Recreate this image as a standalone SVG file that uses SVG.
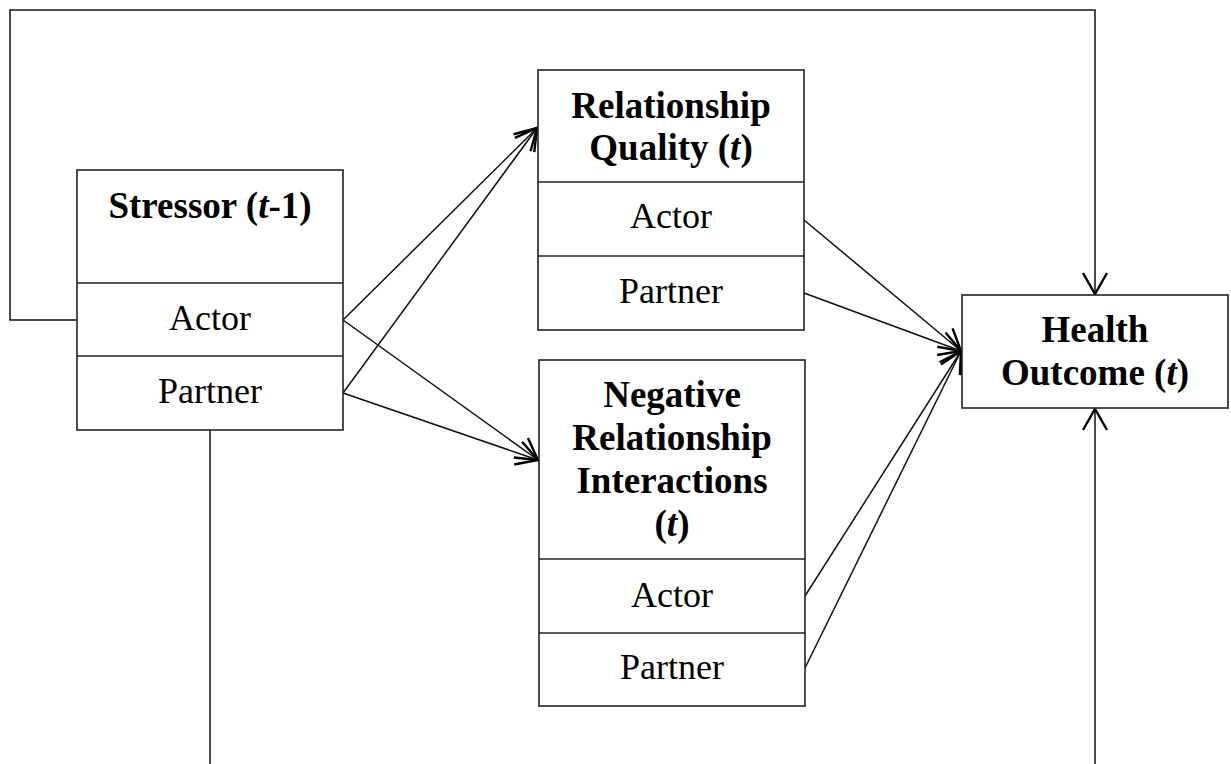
<svg xmlns="http://www.w3.org/2000/svg" width="1231" height="764" viewBox="0 0 1231 764">
<style>
.box{fill:#fff;stroke:#222;stroke-width:1.6}
.div{stroke:#222;stroke-width:1.6}
.t{font-family:"Liberation Serif","Times New Roman",serif;font-size:36px;fill:#000;text-anchor:middle}
.b{font-weight:bold;font-size:37px}
.c{fill:none;stroke:#111;stroke-width:1.5}
</style>
<defs>
<marker id="ah" markerUnits="userSpaceOnUse" markerWidth="30" markerHeight="30" viewBox="-24 -15 28 30" refX="0" refY="0" orient="auto">
<path d="M-21,-12 L0,0 L-21,12" fill="none" stroke="#000" stroke-width="2.4" stroke-linejoin="miter"/>
</marker>
</defs>
<g id="connectors">
<polyline class="c" points="77,320 10,320 10,10 1095,10 1095,294" marker-end="url(#ah)"/>
<line class="c" x1="210" y1="430" x2="210" y2="764"/>
<line class="c" x1="1095" y1="764" x2="1095" y2="409" marker-end="url(#ah)"/>
<line class="c" x1="343" y1="320" x2="537" y2="128" marker-end="url(#ah)"/>
<line class="c" x1="343" y1="393" x2="537" y2="128" marker-end="url(#ah)"/>
<line class="c" x1="343" y1="320" x2="538" y2="460" marker-end="url(#ah)"/>
<line class="c" x1="343" y1="393" x2="538" y2="460" marker-end="url(#ah)"/>
<line class="c" x1="804" y1="220" x2="961" y2="351" marker-end="url(#ah)"/>
<line class="c" x1="804" y1="293" x2="961" y2="351" marker-end="url(#ah)"/>
<line class="c" x1="805" y1="596" x2="961" y2="351" marker-end="url(#ah)"/>
<line class="c" x1="805" y1="668" x2="961" y2="351" marker-end="url(#ah)"/>
</g>
<g id="stressor">
<rect class="box" x="77" y="170" width="266" height="260"/>
<line class="div" x1="77" y1="283" x2="343" y2="283"/>
<line class="div" x1="77" y1="356" x2="343" y2="356"/>
<text class="t b" x="210" y="218">Stressor (<tspan font-style="italic">t</tspan>-1)</text>
<text class="t" x="210" y="330">Actor</text>
<text class="t" x="210" y="403">Partner</text>
</g>
<g id="relationship-quality">
<rect class="box" x="538" y="70" width="266" height="260"/>
<line class="div" x1="538" y1="182" x2="804" y2="182"/>
<line class="div" x1="538" y1="256" x2="804" y2="256"/>
<text class="t b" x="671" y="118">Relationship</text>
<text class="t b" x="671" y="160">Quality (<tspan font-style="italic">t</tspan>)</text>
<text class="t" x="671" y="228">Actor</text>
<text class="t" x="671" y="303">Partner</text>
</g>
<g id="negative-interactions">
<rect class="box" x="539" y="360" width="266" height="346"/>
<line class="div" x1="539" y1="559" x2="805" y2="559"/>
<line class="div" x1="539" y1="633" x2="805" y2="633"/>
<text class="t b" x="672" y="407">Negative</text>
<text class="t b" x="672" y="450">Relationship</text>
<text class="t b" x="672" y="493">Interactions</text>
<text class="t b" x="672" y="536">(<tspan font-style="italic">t</tspan>)</text>
<text class="t" x="672" y="607">Actor</text>
<text class="t" x="672" y="679">Partner</text>
</g>
<g id="health-outcome">
<rect class="box" x="962" y="295" width="266" height="113"/>
<text class="t b" x="1095" y="342">Health</text>
<text class="t b" x="1095" y="385">Outcome (<tspan font-style="italic">t</tspan>)</text>
</g>
</svg>
